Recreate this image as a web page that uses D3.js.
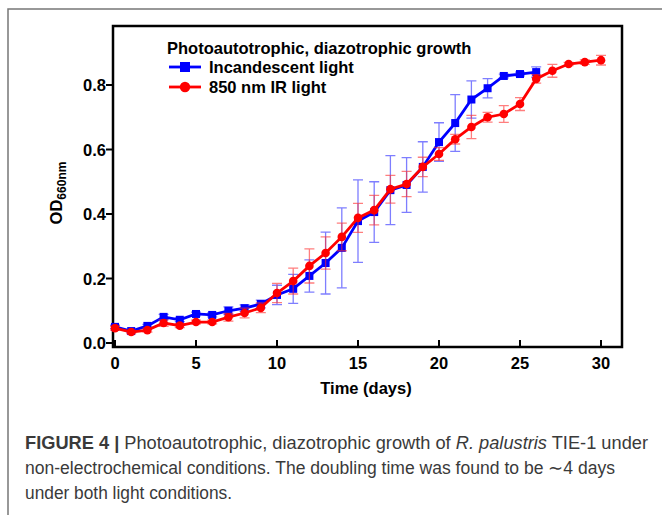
<!DOCTYPE html>
<html>
<head>
<meta charset="utf-8">
<script src="https://cdn.jsdelivr.net/npm/d3@7.9.0/dist/d3.min.js"></script>
<style>
  body { margin: 0; background: #fff; }
  svg { display: block; font-family: "Liberation Sans", Arial, sans-serif; }
</style>
</head>
<body>
<svg id="chart" width="662" height="515"></svg>
<script>
// days
const daysBlue = d3.range(0, 27);
const daysRed = d3.range(0, 31);

// OD660 values
const incandescent = [0.050, 0.037, 0.053, 0.081, 0.072, 0.090, 0.087, 0.100, 0.108, 0.121,
  0.149, 0.168, 0.208, 0.248, 0.295, 0.378, 0.406, 0.474, 0.490, 0.546,
  0.623, 0.682, 0.755, 0.790, 0.828, 0.834, 0.840];
const incandescentErr = [0.005, 0.004, 0.005, 0.008, 0.006, 0.006, 0.006, 0.012, 0.010, 0.012,
  0.030, 0.045, 0.050, 0.096, 0.124, 0.128, 0.094, 0.107, 0.085, 0.078,
  0.060, 0.088, 0.058, 0.030, 0.006, 0.006, 0.016];

const irLight = [0.046, 0.034, 0.040, 0.062, 0.054, 0.065, 0.065, 0.080, 0.093, 0.109,
  0.155, 0.192, 0.239, 0.279, 0.329, 0.388, 0.412, 0.477, 0.493, 0.546,
  0.586, 0.632, 0.670, 0.700, 0.710, 0.741, 0.819, 0.844, 0.865, 0.871, 0.877];
const irLightErr = [0.006, 0.005, 0.006, 0.010, 0.006, 0.006, 0.006, 0.012, 0.015, 0.015,
  0.030, 0.040, 0.053, 0.050, 0.043, 0.045, 0.046, 0.043, 0.039, 0.030,
  0.020, 0.015, 0.036, 0.015, 0.026, 0.020, 0.013, 0.020, 0.005, 0.007, 0.015];

const xTicks = [0, 5, 10, 15, 20, 25, 30];
const yTicks = [0.0, 0.2, 0.4, 0.6, 0.8];

const svg = d3.select('#chart');

// outer figure frame
svg.append('path')
  .attr('d', 'M8,515 L8,9 L662,9')
  .attr('fill', 'none')
  .attr('stroke', '#777')
  .attr('stroke-width', 1.5);

const box = { left: 113, right: 622, top: 26, bottom: 347 };

const x = d3.scaleLinear().domain([0, 30]).range([115, 601]);
const y = d3.scaleLinear().domain([0, 0.8]).range([343, 85]);

// plot box
svg.append('rect')
  .attr('x', box.left).attr('y', box.top)
  .attr('width', box.right - box.left).attr('height', box.bottom - box.top)
  .attr('fill', 'none')
  .attr('stroke', '#000')
  .attr('stroke-width', 2.5);

// x ticks (inward)
const xAxis = svg.append('g');
xTicks.forEach(t => {
  xAxis.append('line')
    .attr('x1', x(t)).attr('x2', x(t))
    .attr('y1', box.bottom).attr('y2', box.bottom - 7)
    .attr('stroke', '#000').attr('stroke-width', 2);
  xAxis.append('text')
    .attr('x', x(t)).attr('y', 369)
    .attr('text-anchor', 'middle')
    .attr('font-size', 16.5).attr('font-weight', 'bold')
    .text(t);
});

// y ticks (outward)
const yAxis = svg.append('g');
yTicks.forEach(t => {
  yAxis.append('line')
    .attr('x1', box.left).attr('x2', box.left - 7)
    .attr('y1', y(t)).attr('y2', y(t))
    .attr('stroke', '#000').attr('stroke-width', 2);
  yAxis.append('text')
    .attr('x', 106).attr('y', y(t) + 6)
    .attr('text-anchor', 'end')
    .attr('font-size', 16.5).attr('font-weight', 'bold')
    .text(t.toFixed(1));
});

// axis titles
svg.append('text')
  .attr('x', 366).attr('y', 394)
  .attr('text-anchor', 'middle')
  .attr('font-size', 16.5).attr('font-weight', 'bold')
  .text('Time (days)');

const yt = svg.append('text')
  .attr('transform', 'translate(62,193) rotate(-90)')
  .attr('text-anchor', 'middle')
  .attr('font-size', 16.5).attr('font-weight', 'bold');
yt.append('tspan').text('OD');
yt.append('tspan').attr('font-size', 12).attr('dy', 4).text('660nm');

// series
const series = [
  { name: 'Incandescent light', days: daysBlue, vals: incandescent, err: incandescentErr, color: '#0000ff', bar: 'rgba(40,40,255,0.6)', shape: 'square' },
  { name: '850 nm IR light', days: daysRed, vals: irLight, err: irLightErr, color: '#ff0000', bar: 'rgba(255,40,40,0.6)', shape: 'circle' }
];

const line = d3.line();

series.forEach(s => {
  const g = svg.append('g');
  s.days.forEach((d, i) => {
    const cx = x(d), lo = y(s.vals[i] - s.err[i]), hi = y(s.vals[i] + s.err[i]);
    g.append('path')
      .attr('d', `M${cx},${lo}V${hi}M${cx - 5},${lo}H${cx + 5}M${cx - 5},${hi}H${cx + 5}`)
      .attr('fill', 'none')
      .attr('stroke', s.bar)
      .attr('stroke-width', 1.3);
  });
  g.append('path')
    .attr('d', line(s.days.map((d, i) => [x(d), y(s.vals[i])])))
    .attr('fill', 'none')
    .attr('stroke', s.color)
    .attr('stroke-width', 2.8);
  s.days.forEach((d, i) => {
    if (s.shape === 'square') {
      g.append('rect')
        .attr('x', x(d) - 4).attr('y', y(s.vals[i]) - 4)
        .attr('width', 8).attr('height', 8)
        .attr('fill', s.color);
    } else {
      g.append('circle')
        .attr('cx', x(d)).attr('cy', y(s.vals[i]))
        .attr('r', 4.3)
        .attr('fill', s.color);
    }
  });
});

// legend
const legend = svg.append('g');
legend.append('text')
  .attr('x', 167).attr('y', 54)
  .attr('font-size', 16.5).attr('font-weight', 'bold')
  .text('Photoautotrophic, diazotrophic growth');

series.forEach((s, i) => {
  const ly = 67 + i * 20;
  legend.append('line')
    .attr('x1', 169).attr('x2', 201)
    .attr('y1', ly).attr('y2', ly)
    .attr('stroke', s.color).attr('stroke-width', 2.8);
  if (s.shape === 'square') {
    legend.append('rect').attr('x', 180).attr('y', ly - 5).attr('width', 10).attr('height', 10).attr('fill', s.color);
  } else {
    legend.append('circle').attr('cx', 185).attr('cy', ly).attr('r', 5.2).attr('fill', s.color);
  }
  legend.append('text')
    .attr('x', 209).attr('y', ly + 6)
    .attr('font-size', 16.5).attr('font-weight', 'bold')
    .text(s.name);
});

// caption
const cap = svg.append('g')
  .attr('font-family', '"Liberation Sans", Arial, sans-serif')
  .attr('font-size', 17.5)
  .attr('fill', '#3a3a3a');
const l1 = cap.append('text').attr('x', 25).attr('y', 449)
  .attr('textLength', 623).attr('lengthAdjust', 'spacingAndGlyphs');
l1.append('tspan').attr('font-weight', 'bold').text('FIGURE 4 | ');
l1.append('tspan').text('Photoautotrophic, diazotrophic growth of ');
l1.append('tspan').attr('font-style', 'italic').text('R. palustris');
l1.append('tspan').text(' TIE-1 under');
cap.append('text').attr('x', 25).attr('y', 474)
  .attr('textLength', 590).attr('lengthAdjust', 'spacingAndGlyphs')
  .text('non-electrochemical conditions. The doubling time was found to be \u223c4 days');
cap.append('text').attr('x', 25).attr('y', 499)
  .attr('textLength', 207).attr('lengthAdjust', 'spacingAndGlyphs')
  .text('under both light conditions.');
</script>
</body>
</html>
